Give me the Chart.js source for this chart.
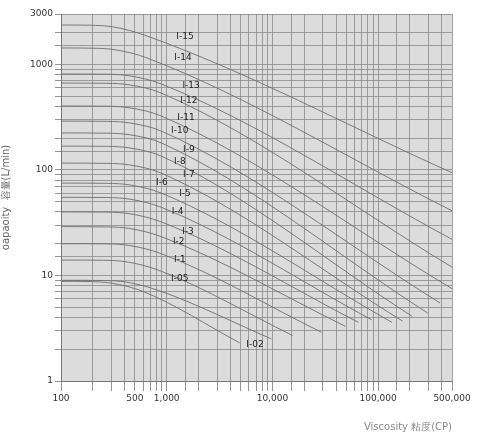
<!DOCTYPE html>
<html><head><meta charset="utf-8">
<script src="https://cdn.jsdelivr.net/npm/chart.js@4"></script>
<style>html,body{margin:0;padding:0;background:#fff}#w{width:478px;height:437px}</style>
</head><body><div id="w"><canvas id="c"></canvas></div>
<script>
const seriesNames = ["I-02","I-05","I-1","I-2","I-3","I-4","I-5","I-6","I-7","I-8","I-9","I-10","I-11","I-12","I-13","I-14","I-15"];
const startFlow = [8.8,9,14,20,29,40,55,75,116,168,224,290,403,665,810,1430,2360];
const kneeVisc  = [300,420,420,450,450,450,450,450,450,450,450,450,450,450,450,330,310];
const endVisc   = [4900,9800,15500,29000,49000,65000,87000,135000,170000,210000,295000,385000,500000,500000,500000,500000,500000];
const endFlow   = [2.3,2.5,2.7,2.9,3.3,3.6,3.8,3.6,3.7,4.1,4.4,5.5,7.5,12,22,41,94];
const labelVisc = [6840,1330,1330,1300,1590,1270,1490,900,1620,1330,1620,1330,1520,1620,1700,1425,1490];
const labelFlow = [2.2,9.4,14,21,26,40,59,75,91,119,157,233,310,449,623,1170,1815];
const xTickLabels = [100,500,1000,10000,100000,500000];
const yTickLabels = [1,10,100,1000,3000];

function curve(i){
  const q0=startFlow[i], k=kneeVisc[i], ev=endVisc[i], ef=endFlow[i];
  return [{x:100,y:q0},{x:k*0.6,y:q0*0.995},{x:k,y:q0*0.96},{x:k*2,y:q0*0.8},{x:ev,y:ef}];
}
const datasets=seriesNames.map((n,i)=>({label:n,data:curve(i),borderColor:'#6e6e6e',borderWidth:0.9,pointRadius:0,cubicInterpolationMode:'monotone',fill:false}));

const bg={id:'bg',beforeDraw(c){const a=c.chartArea,x=c.ctx;x.save();x.fillStyle='#dcdcdc';x.fillRect(a.left,a.top,a.right-a.left,a.bottom-a.top);x.restore();}};
const lbl={id:'lbl',afterDatasetsDraw(c){const x=c.ctx,sx=c.scales.x,sy=c.scales.y;x.save();x.font='9px "DejaVu Sans"';x.fillStyle='#222';x.textAlign='center';x.textBaseline='middle';
  seriesNames.forEach((n,i)=>{const px=sx.getPixelForValue(labelVisc[i]),py=sy.getPixelForValue(labelFlow[i]);x.fillText(n,px,py);});x.restore();}};

new Chart(document.getElementById('c'),{type:'line',data:{datasets},
 plugins:[bg,lbl],
 options:{responsive:true,maintainAspectRatio:false,animation:false,
  layout:{padding:{top:14,right:26,left:0,bottom:0}},
  plugins:{legend:{display:false},tooltip:{enabled:false}},
  scales:{
   x:{type:'logarithmic',min:100,max:500000,
    afterFit(s){s.height=56;},
    grid:{color:'#8a8a8a',lineWidth:0.8,tickLength:10,tickColor:'#777'},
    border:{color:'#777'},
    ticks:{autoSkip:false,maxRotation:0,font:{size:9,family:'DejaVu Sans'},color:'#333',padding:2,
      callback:(v)=>xTickLabels.includes(v)?v.toLocaleString('en-US'):''},
    title:{display:true,text:'Viscosity 粘度(CP)',align:'end',color:'#888',font:{size:10,family:'DejaVu Sans'},padding:{top:4}}},
   y:{type:'logarithmic',min:1,max:3000,
    afterFit(s){s.width=61;},
    grid:{color:'#8a8a8a',lineWidth:0.8,tickLength:6,tickColor:'#777'},
    border:{color:'#777'},
    ticks:{autoSkip:false,font:{size:9,family:'DejaVu Sans'},color:'#333',padding:2,
      callback:(v)=>yTickLabels.includes(v)?String(v):''},
    title:{display:true,text:'oapaoity  容量(L/min)',color:'#666',font:{size:10,family:'DejaVu Sans'},padding:0}}
  }}});
</script></body></html>
